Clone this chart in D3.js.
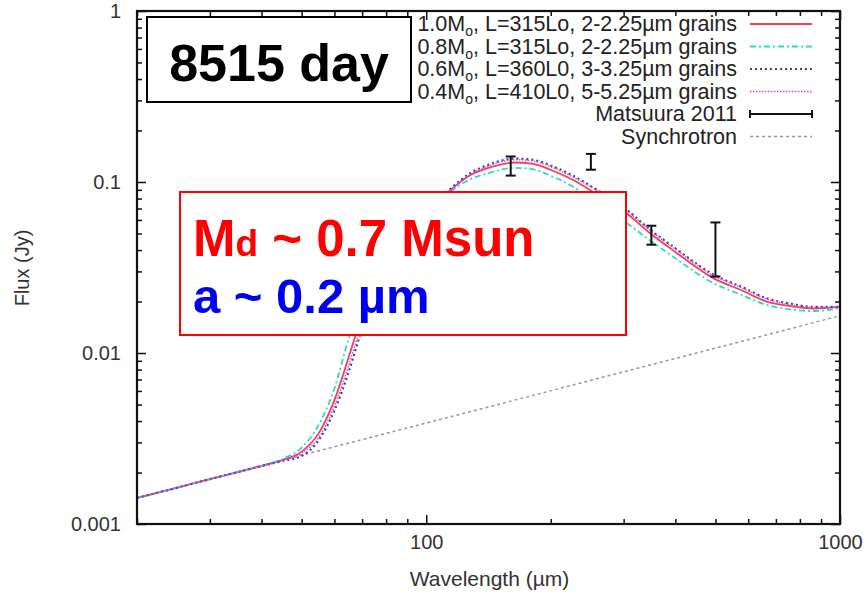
<!DOCTYPE html>
<html>
<head>
<meta charset="utf-8">
<script src="https://cdn.jsdelivr.net/npm/d3@7"></script>
<style>
  body { margin: 0; background: #fff; }
  svg { display: block; }
  text { font-family: "Liberation Sans", Arial, Helvetica, sans-serif; }
</style>
</head>
<body>
<svg id="chart"></svg>
<script>
const w = 865;
const h = 598;

// model grid (micron) and fluxes (Jy)
const wavelengths = [20, 25, 30, 35, 40, 45, 50, 55, 60, 65, 70, 80, 90, 100, 113, 128, 140, 164, 180, 203, 226, 253, 305, 348, 400, 495, 580, 665, 760, 861, 1000];
const fluxRed = [0.00142, 0.00163, 0.00183, 0.00201, 0.00219, 0.00237, 0.00265, 0.0034, 0.0053, 0.0095, 0.0167, 0.0326, 0.0503, 0.0676, 0.0875, 0.110, 0.120, 0.130, 0.128, 0.116, 0.103, 0.0875, 0.0656, 0.050, 0.039, 0.0273, 0.0232, 0.0200, 0.0188, 0.0182, 0.0186];
const fluxCyan = [0.00142, 0.00163, 0.00183, 0.00201, 0.00219, 0.0024, 0.0028, 0.0038, 0.0062, 0.0122, 0.020, 0.036, 0.053, 0.069, 0.086, 0.104, 0.112, 0.121, 0.119, 0.107, 0.094, 0.078, 0.0575, 0.0455, 0.0358, 0.0256, 0.0218, 0.0191, 0.0180, 0.0176, 0.0183];
const fluxBlue = [0.00142, 0.00163, 0.00183, 0.00201, 0.00218, 0.00234, 0.0025, 0.0031, 0.0046, 0.0078, 0.0138, 0.029, 0.048, 0.067, 0.089, 0.113, 0.125, 0.137, 0.135, 0.123, 0.109, 0.093, 0.069, 0.0525, 0.041, 0.0287, 0.0243, 0.0209, 0.0194, 0.0186, 0.0186];
const fluxMagenta = [0.00142, 0.00163, 0.00183, 0.00201, 0.00218, 0.00235, 0.0026, 0.0032, 0.0049, 0.0085, 0.0150, 0.030, 0.048, 0.066, 0.087, 0.111, 0.123, 0.135, 0.133, 0.121, 0.107, 0.092, 0.068, 0.052, 0.0405, 0.0283, 0.0240, 0.0207, 0.0192, 0.0185, 0.0186];

const synchWave = [20, 1000];
const synchFlux = [0.00142, 0.0165];

// Matsuura 2011 photometry (error bar ends)
const obsWave = [100, 160, 250, 350, 500];
const obsLow = [0.0631, 0.109, 0.118, 0.043, 0.028];
const obsHigh = [0.0779, 0.141, 0.146, 0.0555, 0.058];

const legendLabels = [
  ["1.0M", "o", ", L=315Lo, 2-2.25\u00b5m grains"],
  ["0.8M", "o", ", L=315Lo, 2-2.25\u00b5m grains"],
  ["0.6M", "o", ", L=360L0, 3-3.25\u00b5m grains"],
  ["0.4M", "o", ", L=410L0, 5-5.25\u00b5m grains"],
  ["Matsuura 2011"],
  ["Synchrotron"]
];

const xMajor = [100, 1000];
const xMinor = [20, 30, 40, 50, 60, 70, 80, 90, 200, 300, 400, 500, 600, 700, 800, 900];
const yMajor = [0.001, 0.01, 0.1, 1];
const yMinor = [];
[0.001, 0.01, 0.1].forEach(d => { for (let k = 2; k <= 9; k++) yMinor.push(+(d * k).toPrecision(3)); });

const margin = {left: 137, right: 25, top: 11, bottom: 74};

const svg = d3.select("#chart")
  .attr("width", w)
  .attr("height", h)
  .attr("viewBox", [0, 0, w, h]);

const x = d3.scaleLog().domain([20, 1000]).range([margin.left, w - margin.right]);
const y = d3.scaleLog().domain([0.001, 1]).range([h - margin.bottom, margin.top]);

svg.append("defs").append("clipPath").attr("id", "plotclip")
  .append("rect")
  .attr("x", x.range()[0]).attr("y", y.range()[1])
  .attr("width", x.range()[1] - x.range()[0])
  .attr("height", y.range()[0] - y.range()[1]);

// axes, gnuplot style: ticks inside, mirrored on all sides
function styleAxis(g) {
  g.select(".domain").remove();
  g.selectAll(".tick line").attr("stroke", "#111").attr("stroke-width", 1.5);
  g.selectAll("text").attr("fill", "#333").attr("font-size", 20);
}
const x0 = y.range()[0], x1 = y.range()[1];
svg.append("g").attr("transform", `translate(0,${x0})`)
  .call(d3.axisBottom(x).tickValues(xMinor).tickSize(-5).tickFormat(""))
  .call(styleAxis);
svg.append("g").attr("transform", `translate(0,${x0})`)
  .call(d3.axisBottom(x).tickValues(xMajor).tickSize(-9).tickPadding(11).tickFormat(d3.format("d")))
  .call(styleAxis);
svg.append("g").attr("transform", `translate(0,${x1})`)
  .call(d3.axisTop(x).tickValues(xMinor).tickSize(-5).tickFormat(""))
  .call(styleAxis);
svg.append("g").attr("transform", `translate(0,${x1})`)
  .call(d3.axisTop(x).tickValues(xMajor).tickSize(-9).tickFormat(""))
  .call(styleAxis);

const yl = x.range()[0], yr = x.range()[1];
svg.append("g").attr("transform", `translate(${yl},0)`)
  .call(d3.axisLeft(y).tickValues(yMinor).tickSize(-5).tickFormat(""))
  .call(styleAxis);
svg.append("g").attr("transform", `translate(${yl},0)`)
  .call(d3.axisLeft(y).tickValues(yMajor).tickSize(-9).tickPadding(16).tickFormat(d => String(d)))
  .call(styleAxis);
svg.append("g").attr("transform", `translate(${yr},0)`)
  .call(d3.axisRight(y).tickValues(yMinor).tickSize(-5).tickFormat(""))
  .call(styleAxis);
svg.append("g").attr("transform", `translate(${yr},0)`)
  .call(d3.axisRight(y).tickValues(yMajor).tickSize(-9).tickFormat(""))
  .call(styleAxis);

// axis titles
svg.append("text")
  .attr("x", (yl + yr) / 2 + 1).attr("y", 586)
  .attr("text-anchor", "middle").attr("font-size", 21).attr("fill", "#333")
  .text("Wavelength (\u00b5m)");
svg.append("text")
  .attr("transform", "translate(29,268) rotate(-90)")
  .attr("text-anchor", "middle").attr("font-size", 20).attr("fill", "#333")
  .text("Flux (Jy)");

// curves
const plot = svg.append("g").attr("clip-path", "url(#plotclip)");
const line = d3.line().x(d => x(d[0])).y(d => y(d[1])).curve(d3.curveMonotoneX);

const series = [
  {vals: fluxRed, color: "#f0434b", dash: null, width: 1.8},
  {vals: fluxCyan, color: "#2fd5d0", dash: "6,3,2,3", width: 1.8},
  {vals: fluxBlue, color: "#3b3bbf", dash: "2,3", width: 2.2},
  {vals: fluxMagenta, color: "#d848e0", dash: "1.5,1.5", width: 1.4}
];

plot.append("path")
  .attr("d", line(synchWave.map((d, i) => [d, synchFlux[i]])))
  .attr("fill", "none").attr("stroke", "#999").attr("stroke-width", 1.5)
  .attr("stroke-dasharray", "3,3");

series.forEach(s => {
  plot.append("path")
    .attr("d", line(wavelengths.map((d, i) => [d, s.vals[i]])))
    .attr("fill", "none")
    .attr("stroke", s.color)
    .attr("stroke-width", s.width)
    .attr("stroke-dasharray", s.dash);
});

// error bars
const bars = plot.append("g").attr("stroke", "#111").attr("stroke-width", 2);
obsWave.forEach((d, i) => {
  const cx = x(d);
  bars.append("line").attr("x1", cx).attr("x2", cx).attr("y1", y(obsLow[i])).attr("y2", y(obsHigh[i]));
  bars.append("line").attr("x1", cx - 5).attr("x2", cx + 5).attr("y1", y(obsLow[i])).attr("y2", y(obsLow[i]));
  bars.append("line").attr("x1", cx - 5).attr("x2", cx + 5).attr("y1", y(obsHigh[i])).attr("y2", y(obsHigh[i]));
});

// legend
const legend = svg.append("g");
const legTextX = 737, legLine = [750, 812];
const legStyles = [
  ...series.map(s => ({color: s.color, dash: s.dash, width: s.width})),
  {color: "#111", dash: null, width: 2, caps: true},
  {color: "#999", dash: "3,3", width: 1.5}
];
legendLabels.forEach((lab, i) => {
  const by = 31 + i * 22.5;
  const t = legend.append("text")
    .attr("x", legTextX).attr("y", by)
    .attr("text-anchor", "end").attr("font-size", 21.5).attr("fill", "#222");
  t.append("tspan").text(lab[0]);
  if (lab.length > 1) {
    t.append("tspan").attr("font-size", 14).attr("dy", 5).text(lab[1]);
    t.append("tspan").attr("dy", -5).text(lab[2]);
  }
  const st = legStyles[i];
  const ly = by - 7;
  legend.append("line")
    .attr("x1", legLine[0]).attr("x2", legLine[1]).attr("y1", ly).attr("y2", ly)
    .attr("stroke", st.color).attr("stroke-width", st.width)
    .attr("stroke-dasharray", st.dash);
  if (st.caps) {
    legLine.forEach(lx => legend.append("line")
      .attr("x1", lx).attr("x2", lx).attr("y1", ly - 4).attr("y2", ly + 4)
      .attr("stroke", st.color).attr("stroke-width", 2));
  }
});

// frame
svg.append("rect")
  .attr("x", yl).attr("y", x1)
  .attr("width", yr - yl).attr("height", x0 - x1)
  .attr("fill", "none").attr("stroke", "#111").attr("stroke-width", 2.2);

// epoch box
svg.append("rect")
  .attr("x", 147).attr("y", 17).attr("width", 264).attr("height", 85)
  .attr("fill", "#fff").attr("stroke", "#000").attr("stroke-width", 2);
svg.append("text")
  .attr("x", 279).attr("y", 81)
  .attr("text-anchor", "middle").attr("font-size", 52).attr("font-weight", "bold")
  .attr("fill", "#000")
  .text("8515 day");

// annotation box
svg.append("rect")
  .attr("x", 180).attr("y", 192).attr("width", 446).attr("height", 143)
  .attr("fill", "#fff").attr("stroke", "#f00").attr("stroke-width", 2);
const l1 = svg.append("text")
  .attr("x", 193).attr("y", 256)
  .attr("font-weight", "bold").attr("fill", "#f00").attr("font-size", 51);
l1.append("tspan").text("M");
l1.append("tspan").attr("font-size", 37).text("d");
l1.append("tspan").text(" ~ 0.7 Msun");
svg.append("text")
  .attr("x", 193).attr("y", 313)
  .attr("font-weight", "bold").attr("fill", "#0000f0").attr("font-size", 49)
  .text("a ~ 0.2 \u00b5m");
</script>
</body>
</html>
